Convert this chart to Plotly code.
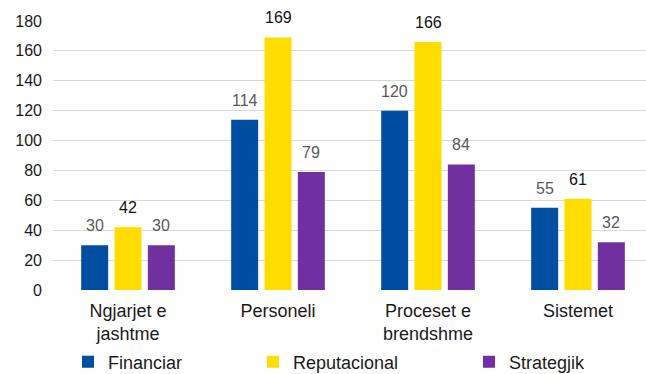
import plotly.graph_objects as go

categories = ["Ngjarjet e<br>jashtme", "Personeli", "Proceset e<br>brendshme", "Sistemet"]
financiar = [30, 114, 120, 55]
reputacional = [42, 169, 166, 61]
strategjik = [30, 79, 84, 32]
y_ticks = [0, 20, 40, 60, 80, 100, 120, 140, 160, 180]

FONT = "Liberation Sans, Arial, sans-serif"
BARGAP = 1 / 3

series = [
    ("Financiar", financiar, "#004EA2", "#595959", "legend"),
    ("Reputacional", reputacional, "#FFDD00", "#111111", "legend2"),
    ("Strategjik", strategjik, "#7030A0", "#595959", "legend3"),
]

fig = go.Figure()
annotations = []
n = len(series)
slot = (1 - BARGAP) / n
for k, (name, vals, color, tcolor, leg) in enumerate(series):
    fig.add_trace(go.Bar(
        name=name, x=list(range(len(categories))), y=vals,
        marker=dict(color=color, line=dict(width=0)),
        legend=leg, hoverinfo="name+y",
    ))
    off = (k - (n - 1) / 2) * slot
    for i, v in enumerate(vals):
        annotations.append(dict(
            x=i + off, y=v, xref="x", yref="y", text=str(v), showarrow=False,
            yanchor="bottom", xanchor="center", yshift=9,
            font=dict(family=FONT, size=16, color=tcolor),
        ))

W, H = 646, 374
L, R, T, B = 53, 0, 21, 84
pw = W - L - R
ph = H - T - B

def lx(px):
    return (px - L) / pw

leg_y = -(362 - (H - B)) / ph

def legend_at(px):
    return dict(orientation="h", yanchor="middle", y=leg_y, xanchor="left", x=lx(px),
                font=dict(family=FONT, size=18, color="#1a1a1a"),
                bgcolor="rgba(0,0,0,0)", itemwidth=30)

fig.update_layout(
    width=W, height=H,
    margin=dict(l=L, r=R, t=T, b=B, pad=0, autoexpand=False),
    paper_bgcolor="white", plot_bgcolor="white",
    barmode="group", bargap=BARGAP, bargroupgap=0.19,
    font=dict(family=FONT, size=16, color="#1a1a1a"),
    xaxis=dict(
        tickmode="array", tickvals=list(range(len(categories))), ticktext=categories,
        range=[-0.5, (W - 128) / 150],
        showgrid=False, zeroline=False, showline=False, ticks="",
        tickfont=dict(family=FONT, size=18, color="#1a1a1a"),
        ticklabelstandoff=8, automargin=False,
    ),
    yaxis=dict(
        range=[0, 180], tickvals=y_ticks,
        showgrid=True, gridcolor="#D9D9D9", gridwidth=1.3,
        zeroline=False, showline=False, ticks="",
        tickfont=dict(family=FONT, size=16, color="#1a1a1a"),
        ticklabelstandoff=10, automargin=False,
    ),
    legend=legend_at(68),
    legend2=legend_at(253),
    legend3=legend_at(469),
    showlegend=True,
    annotations=annotations,
)

fig.write_html(
    "out.html",
    config={"displayModeBar": False},
    post_script="document.body.style.margin='0';document.body.style.overflow='hidden';",
)
